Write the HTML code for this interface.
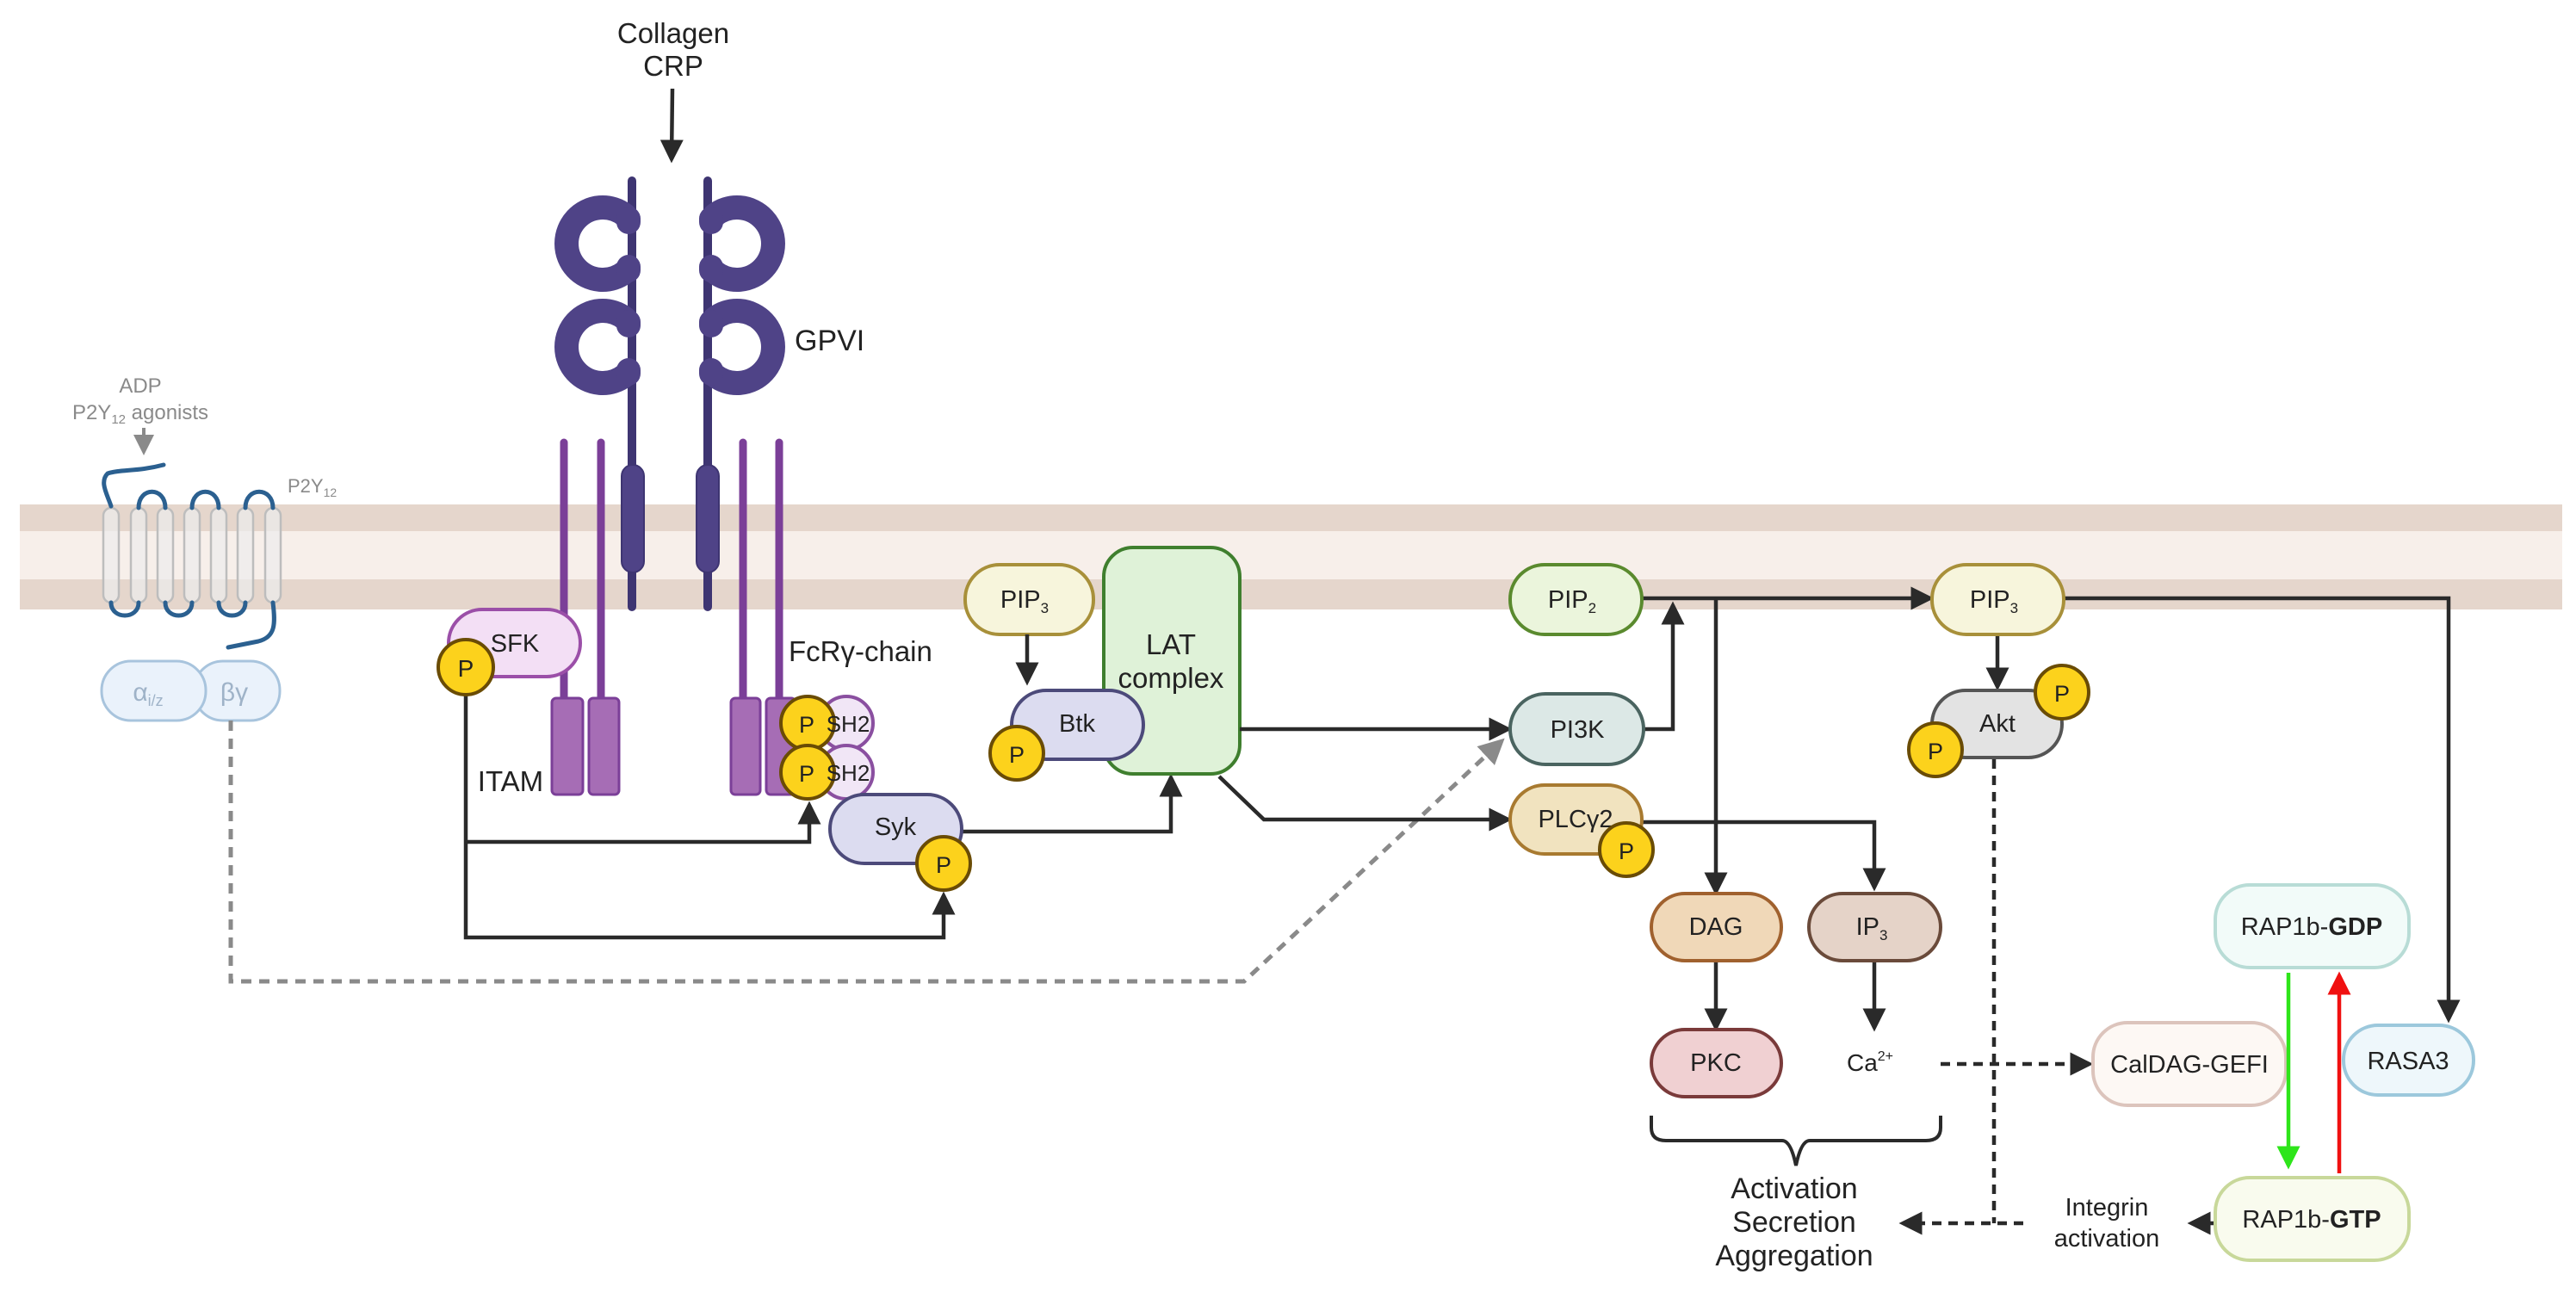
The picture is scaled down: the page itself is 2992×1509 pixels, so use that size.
<!DOCTYPE html>
<html><head><meta charset="utf-8"><style>
html,body{margin:0;padding:0;background:#fff;}
svg{display:block;font-family:"Liberation Sans",sans-serif;}
</style></head><body>
<svg width="2992" height="1509" viewBox="0 0 2992 1509" xmlns="http://www.w3.org/2000/svg">
<defs>
<marker id="ah" markerWidth="6" markerHeight="6" refX="5" refY="3" orient="auto" markerUnits="strokeWidth"><path d="M0,0 L6,3 L0,6 z" fill="#2a2a2a"/></marker>
<marker id="ag" markerWidth="6" markerHeight="6" refX="5" refY="3" orient="auto" markerUnits="strokeWidth"><path d="M0,0 L6,3 L0,6 z" fill="#8a8a8a"/></marker>
<marker id="agr" markerWidth="6" markerHeight="6" refX="5" refY="3" orient="auto" markerUnits="strokeWidth"><path d="M0,0 L6,3 L0,6 z" fill="#2ee51a"/></marker>
<marker id="ard" markerWidth="6" markerHeight="6" refX="5" refY="3" orient="auto" markerUnits="strokeWidth"><path d="M0,0 L6,3 L0,6 z" fill="#f01010"/></marker>
</defs>

<!-- membrane -->
<rect x="23" y="586" width="2953" height="122" fill="#f7efea"/>
<rect x="23" y="586" width="2953" height="31" fill="#e5d6cc"/>
<rect x="23" y="673" width="2953" height="35" fill="#e5d6cc"/>

<!-- P2Y12 GPCR -->
<g fill="#ececec" fill-opacity="0.7" stroke="#bdbdbd" stroke-width="2.5">
<rect x="120" y="590" width="18" height="110" rx="9"/>
<rect x="152" y="590" width="18" height="110" rx="9"/>
<rect x="183" y="590" width="18" height="110" rx="9"/>
<rect x="214" y="590" width="18" height="110" rx="9"/>
<rect x="245" y="590" width="18" height="110" rx="9"/>
<rect x="276" y="590" width="18" height="110" rx="9"/>
<rect x="308" y="590" width="18" height="110" rx="9"/>
</g>
<g fill="none" stroke="#2b6090" stroke-width="5" stroke-linecap="round">
<path d="M190,540 C160,548 140,545 125,550 C115,560 125,575 129,588"/>
<path d="M161,590 C161,565 192,565 192,590"/>
<path d="M223,590 C223,565 254,565 254,590"/>
<path d="M285,590 C285,565 317,565 317,590"/>
<path d="M129,700 C129,720 161,720 161,700"/>
<path d="M192,700 C192,720 223,720 223,700"/>
<path d="M254,700 C254,720 285,720 285,700"/>
<path d="M317,700 C320,725 320,740 300,745 L265,752"/>
</g>
<text x="163" y="456" font-size="24" fill="#8a8a8a" text-anchor="middle">ADP</text>
<text x="163" y="487" font-size="24" fill="#8a8a8a" text-anchor="middle">P2Y<tspan font-size="15" dy="5">12</tspan><tspan dy="-5"> agonists</tspan></text>
<line x1="167" y1="497" x2="167" y2="525" stroke="#8a8a8a" stroke-width="4" marker-end="url(#ag)"/>
<text x="334" y="572" font-size="22" fill="#8a8a8a">P2Y<tspan font-size="14" dy="5">12</tspan></text>
<rect x="225" y="768" width="100" height="69" rx="34" fill="#eaf2fb" stroke="#a8c4dd" stroke-width="3"/>
<rect x="118" y="768" width="121" height="69" rx="34" fill="#eaf2fb" stroke="#a8c4dd" stroke-width="3"/>
<text x="172" y="814" font-size="30" fill="#9fb3c8" text-anchor="middle">α<tspan font-size="18" dy="6">i/z</tspan></text>
<text x="272" y="814" font-size="30" fill="#9fb3c8" text-anchor="middle">βγ</text>

<!-- dashed grey line to PI3K -->
<polyline points="268,837 268,1140 1445,1140 1744,861" fill="none" stroke="#8a8a8a" stroke-width="5" stroke-dasharray="12,9" marker-end="url(#ag)"/>

<!-- Collagen -->
<text x="782" y="50" font-size="33" fill="#222" text-anchor="middle">Collagen</text>
<text x="782" y="88" font-size="33" fill="#222" text-anchor="middle">CRP</text>
<line x1="781" y1="103" x2="780" y2="185" stroke="#2a2a2a" stroke-width="4.5" marker-end="url(#ah)"/>

<!-- GPVI -->
<g stroke="#3e3572" stroke-width="10" stroke-linecap="round">
<line x1="734" y1="210" x2="734" y2="705"/>
<line x1="822" y1="210" x2="822" y2="705"/>
</g>
<g fill="none" stroke="#4f4387" stroke-width="28" stroke-linecap="round">
<path d="M726,250 A42,42 0 1 0 726,316"/>
<path d="M726,370 A42,42 0 1 0 726,436"/>
<path d="M830,250 A42,42 0 1 1 830,316"/>
<path d="M830,370 A42,42 0 1 1 830,436"/>
</g>
<g fill="#4f4387">
<rect x="716" y="240" width="28" height="32" rx="14"/>
<rect x="716" y="296" width="28" height="32" rx="14"/>
<rect x="716" y="360" width="28" height="32" rx="14"/>
<rect x="716" y="416" width="28" height="32" rx="14"/>
<rect x="812" y="240" width="28" height="32" rx="14"/>
<rect x="812" y="296" width="28" height="32" rx="14"/>
<rect x="812" y="360" width="28" height="32" rx="14"/>
<rect x="812" y="416" width="28" height="32" rx="14"/>
</g>
<rect x="722" y="540" width="26" height="125" rx="13" fill="#4f4387" stroke="#3e3572" stroke-width="2"/>
<rect x="809" y="540" width="26" height="125" rx="13" fill="#4f4387" stroke="#3e3572" stroke-width="2"/>
<text x="923" y="407" font-size="34" fill="#222">GPVI</text>

<!-- FcRγ chains -->
<g stroke="#7b3f98" stroke-width="9" stroke-linecap="round">
<line x1="655" y1="514" x2="655" y2="813"/>
<line x1="698" y1="514" x2="698" y2="813"/>
<line x1="863" y1="514" x2="863" y2="813"/>
<line x1="905" y1="514" x2="905" y2="813"/>
</g>
<g fill="#a66db5" stroke="#7b3f98" stroke-width="3">
<rect x="641" y="811" width="36" height="112" rx="5"/>
<rect x="684" y="811" width="35" height="112" rx="5"/>
<rect x="849" y="811" width="34" height="112" rx="5"/>
<rect x="890" y="811" width="34" height="112" rx="5"/>
</g>
<text x="593" y="919" font-size="33" fill="#222" text-anchor="middle">ITAM</text>
<text x="916" y="768" font-size="33" fill="#222">FcRγ-chain</text>

<!-- SFK -->
<rect x="521" y="708" width="153" height="78" rx="39" fill="#f3dff5" stroke="#9b4fa8" stroke-width="4"/>
<text x="598" y="757" font-size="29" fill="#222" text-anchor="middle">SFK</text>

<g fill="none" stroke="#2a2a2a" stroke-width="4.5">
<polyline points="541,790 541,1089 1096,1089 1096,1040" marker-end="url(#ah)"/>
<polyline points="541,978 940,978 940,935" marker-end="url(#ah)"/>
<polyline points="1117,966 1360,966 1360,903" marker-end="url(#ah)"/>
</g>
<circle cx="541" cy="775" r="32" fill="#fcd21c" stroke="#6a4c05" stroke-width="4"/>
<text x="541" y="786" font-size="28" fill="#222" text-anchor="middle">P</text>

<circle cx="983" cy="840" r="31" fill="#f1e6f6" stroke="#8a4fa0" stroke-width="4"/>
<circle cx="983" cy="897" r="31" fill="#f1e6f6" stroke="#8a4fa0" stroke-width="4"/>
<circle cx="938" cy="840" r="31" fill="#fcd21c" stroke="#6a4c05" stroke-width="4"/>
<circle cx="938" cy="897" r="31" fill="#fcd21c" stroke="#6a4c05" stroke-width="4"/>
<text x="937" y="851" font-size="27" fill="#222" text-anchor="middle">P</text>
<text x="937" y="908" font-size="27" fill="#222" text-anchor="middle">P</text>
<text x="985" y="850" font-size="26" fill="#222" text-anchor="middle">SH2</text>
<text x="985" y="907" font-size="26" fill="#222" text-anchor="middle">SH2</text>

<rect x="964" y="923" width="153" height="80" rx="40" fill="#dcdcf0" stroke="#4c4a7a" stroke-width="4"/>
<text x="1040" y="970" font-size="29" fill="#222" text-anchor="middle">Syk</text>
<circle cx="1096" cy="1003" r="31" fill="#fcd21c" stroke="#6a4c05" stroke-width="4"/>
<text x="1096" y="1014" font-size="27" fill="#222" text-anchor="middle">P</text>

<rect x="1121" y="656" width="149" height="81" rx="40" fill="#f7f5dc" stroke="#a8903a" stroke-width="4"/>
<text x="1190" y="706" font-size="29" fill="#222" text-anchor="middle">PIP<tspan font-size="17" dy="6">3</tspan></text>
<line x1="1193" y1="737" x2="1193" y2="792" stroke="#2a2a2a" stroke-width="4.5" marker-end="url(#ah)"/>

<rect x="1282" y="636" width="158" height="263" rx="34" fill="#dff2d8" stroke="#3f7f2e" stroke-width="4"/>
<text x="1360" y="760" font-size="33" fill="#222" text-anchor="middle">LAT</text>
<text x="1360" y="799" font-size="33" fill="#222" text-anchor="middle">complex</text>

<rect x="1175" y="802" width="153" height="80" rx="40" fill="#dcdcf0" stroke="#4c4a7a" stroke-width="4"/>
<text x="1251" y="850" font-size="29" fill="#222" text-anchor="middle">Btk</text>
<circle cx="1181" cy="875" r="31" fill="#fcd21c" stroke="#6a4c05" stroke-width="4"/>
<text x="1181" y="886" font-size="27" fill="#222" text-anchor="middle">P</text>

<g fill="none" stroke="#2a2a2a" stroke-width="4.5">
<polyline points="1440,847 1752,847" marker-end="url(#ah)"/>
<polyline points="1416,902 1468,952 1752,952" marker-end="url(#ah)"/>
<polyline points="1909,847 1943,847 1943,703" marker-end="url(#ah)"/>
<polyline points="1907,695 2242,695" marker-end="url(#ah)"/>
<polyline points="1993,695 1993,1036" marker-end="url(#ah)"/>
<polyline points="1907,955 2177,955 2177,1031" marker-end="url(#ah)"/>
<polyline points="2397,695 2844,695 2844,1184" marker-end="url(#ah)"/>
<polyline points="2320,737 2320,798" marker-end="url(#ah)"/>
<polyline points="1993,1116 1993,1194" marker-end="url(#ah)"/>
<polyline points="2177,1116 2177,1194" marker-end="url(#ah)"/>
<polyline points="2571,1421 2545,1421" marker-end="url(#ah)"/>
</g>
<g fill="none" stroke="#2a2a2a" stroke-width="4.5" stroke-dasharray="11,8">
<polyline points="2316,882 2316,1421"/>
<polyline points="2350,1421 2210,1421" marker-end="url(#ah)"/>
<polyline points="2254,1236 2427,1236" marker-end="url(#ah)"/>
</g>

<rect x="1754" y="656" width="153" height="81" rx="40" fill="#ebf5dc" stroke="#5a8a2e" stroke-width="4"/>
<text x="1826" y="706" font-size="29" fill="#222" text-anchor="middle">PIP<tspan font-size="17" dy="6">2</tspan></text>
<rect x="1754" y="806" width="155" height="82" rx="41" fill="#dce8e6" stroke="#4a6460" stroke-width="4"/>
<text x="1832" y="857" font-size="29" fill="#222" text-anchor="middle">PI3K</text>
<rect x="1754" y="912" width="153" height="80" rx="40" fill="#f1e3bf" stroke="#a87a30" stroke-width="4"/>
<text x="1830" y="961" font-size="29" fill="#222" text-anchor="middle">PLCγ2</text>
<circle cx="1889" cy="987" r="31" fill="#fcd21c" stroke="#6a4c05" stroke-width="4"/>
<text x="1889" y="998" font-size="27" fill="#222" text-anchor="middle">P</text>

<rect x="2244" y="656" width="153" height="81" rx="40" fill="#f7f5dc" stroke="#a8903a" stroke-width="4"/>
<text x="2316" y="706" font-size="29" fill="#222" text-anchor="middle">PIP<tspan font-size="17" dy="6">3</tspan></text>
<rect x="2244" y="802" width="151" height="78" rx="39" fill="#e3e3e3" stroke="#555" stroke-width="4"/>
<text x="2320" y="850" font-size="29" fill="#222" text-anchor="middle">Akt</text>
<circle cx="2395" cy="804" r="31" fill="#fcd21c" stroke="#6a4c05" stroke-width="4"/>
<text x="2395" y="815" font-size="27" fill="#222" text-anchor="middle">P</text>
<circle cx="2248" cy="871" r="31" fill="#fcd21c" stroke="#6a4c05" stroke-width="4"/>
<text x="2248" y="882" font-size="27" fill="#222" text-anchor="middle">P</text>

<rect x="1918" y="1038" width="151" height="78" rx="39" fill="#f0d8b8" stroke="#a0612e" stroke-width="4"/>
<text x="1993" y="1086" font-size="29" fill="#222" text-anchor="middle">DAG</text>
<rect x="2101" y="1038" width="153" height="78" rx="39" fill="#e5d3c8" stroke="#6a4a3a" stroke-width="4"/>
<text x="2174" y="1086" font-size="29" fill="#222" text-anchor="middle">IP<tspan font-size="17" dy="6">3</tspan></text>
<rect x="1918" y="1196" width="151" height="78" rx="39" fill="#f0d0d2" stroke="#7a3a3a" stroke-width="4"/>
<text x="1993" y="1244" font-size="29" fill="#222" text-anchor="middle">PKC</text>
<text x="2172" y="1244" font-size="28" fill="#222" text-anchor="middle">Ca<tspan font-size="16" dy="-12">2+</tspan></text>

<path d="M1918,1296 L1918,1310 Q1918,1325 1935,1325 L2070,1325 Q2080,1325 2086,1354 Q2092,1325 2102,1325 L2237,1325 Q2254,1325 2254,1310 L2254,1296" fill="none" stroke="#2a2a2a" stroke-width="4"/>
<text x="2084" y="1392" font-size="34" fill="#222" text-anchor="middle">Activation</text>
<text x="2084" y="1431" font-size="34" fill="#222" text-anchor="middle">Secretion</text>
<text x="2084" y="1470" font-size="34" fill="#222" text-anchor="middle">Aggregation</text>

<rect x="2431" y="1188" width="224" height="96" rx="40" fill="#fdf8f4" stroke="#dcc4bc" stroke-width="4"/>
<text x="2543" y="1246" font-size="29" fill="#222" text-anchor="middle">CalDAG-GEFI</text>
<rect x="2722" y="1191" width="151" height="81" rx="40" fill="#eef7fb" stroke="#9cc8dc" stroke-width="4"/>
<text x="2797" y="1242" font-size="29" fill="#222" text-anchor="middle">RASA3</text>
<rect x="2573" y="1028" width="225" height="96" rx="40" fill="#f2fbf9" stroke="#b8dcd6" stroke-width="4"/>
<text x="2685" y="1086" font-size="29" fill="#222" text-anchor="middle">RAP1b-<tspan font-weight="bold">GDP</tspan></text>
<rect x="2573" y="1368" width="225" height="96" rx="40" fill="#f9fbee" stroke="#c8d89a" stroke-width="4"/>
<text x="2685" y="1426" font-size="29" fill="#222" text-anchor="middle">RAP1b-<tspan font-weight="bold">GTP</tspan></text>
<line x1="2658" y1="1130" x2="2658" y2="1354" stroke="#2ee51a" stroke-width="4.5" marker-end="url(#agr)"/>
<line x1="2717" y1="1363" x2="2717" y2="1133" stroke="#f01010" stroke-width="4.5" marker-end="url(#ard)"/>
<text x="2447" y="1412" font-size="29" fill="#222" text-anchor="middle">Integrin</text>
<text x="2447" y="1448" font-size="29" fill="#222" text-anchor="middle">activation</text>
</svg>
</body></html>
